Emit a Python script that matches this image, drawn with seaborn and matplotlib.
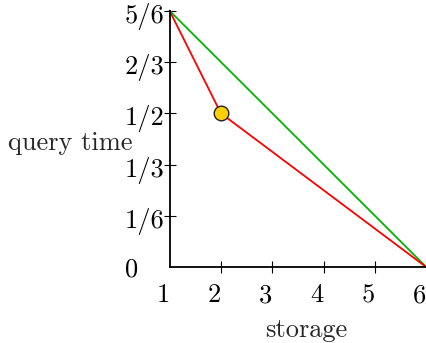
import matplotlib
matplotlib.use("Agg")
import matplotlib.pyplot as plt
import matplotlib.transforms as mtransforms
import seaborn as sns
import pandas as pd

# storage vs query time trade-off
storage_red = [1, 2, 6]
query_red = [5 / 6, 1 / 2, 0]
storage_green = [1, 6]
query_green = [5 / 6, 0]
point_storage = [2]
point_query = [1 / 2]

x_ticks = [1, 2, 3, 4, 5, 6]
x_labels = ["1", "2", "3", "4", "5", "6"]
y_ticks = [0, 1 / 6, 1 / 3, 1 / 2, 2 / 3, 5 / 6]
y_labels = ["0", "1/6", "1/3", "1/2", "2/3", "5/6"]

sns.set_style("ticks")
plt.rcParams["font.family"] = ["cmr10", "DejaVu Serif"]
plt.rcParams["axes.unicode_minus"] = False
plt.rcParams["font.size"] = 19

fig = plt.figure(figsize=(4.27, 3.43), dpi=100)
ax = fig.add_axes([0.397, 0.2207, 0.6019, 0.7481])

red_df = pd.DataFrame({"storage": storage_red, "query": query_red})
green_df = pd.DataFrame({"storage": storage_green, "query": query_green})
pt_df = pd.DataFrame({"storage": point_storage, "query": point_query})

sns.lineplot(data=green_df, x="storage", y="query", color="#00b400", lw=1.3, ax=ax, clip_on=False)
sns.lineplot(data=red_df, x="storage", y="query", color="#ff0000", lw=1.3, ax=ax, clip_on=False)
sns.scatterplot(data=pt_df, x="storage", y="query", s=110, color="#ffd000",
                edgecolor="#222222", linewidth=1.0, ax=ax, zorder=5, clip_on=False)

ax.set_xlim(1, 6)
ax.set_ylim(0, 5 / 6)
sns.despine(ax=ax)
for side in ["left", "bottom"]:
    ax.spines[side].set_linewidth(1.3)
    ax.spines[side].set_color("black")
    ax.spines[side].set_capstyle("projecting")

ax.set_xticks(x_ticks)
ax.set_xticklabels(x_labels)
ax.set_yticks(y_ticks)
ax.set_yticklabels(y_labels)
ax.tick_params(axis="both", direction="inout", length=9, width=0.8, colors="black")
ax.tick_params(axis="x", pad=7)
ax.tick_params(axis="y", pad=27.5)

# no tick marks at the origin corner
ax.xaxis.get_major_ticks()[0].tick1line.set_visible(False)
ax.yaxis.get_major_ticks()[0].tick1line.set_visible(False)

for lab in ax.get_xticklabels():
    lab.set_horizontalalignment("right")
for lab in ax.get_yticklabels():
    lab.set_horizontalalignment("left")
    if lab.get_text() == "0":
        dy = 0
    else:
        dy = -1.5 / 72
    lab.set_transform(lab.get_transform() + mtransforms.ScaledTranslation(0, dy, fig.dpi_scale_trans))

ax.set_xlabel("storage", va="baseline")
ax.xaxis.set_label_coords(0.533, -0.2716)
ax.set_ylabel("query time", rotation=0, ha="right", va="baseline")
ax.yaxis.set_label_coords(-0.143, 0.457)

fig.savefig("out.png", dpi=100)
